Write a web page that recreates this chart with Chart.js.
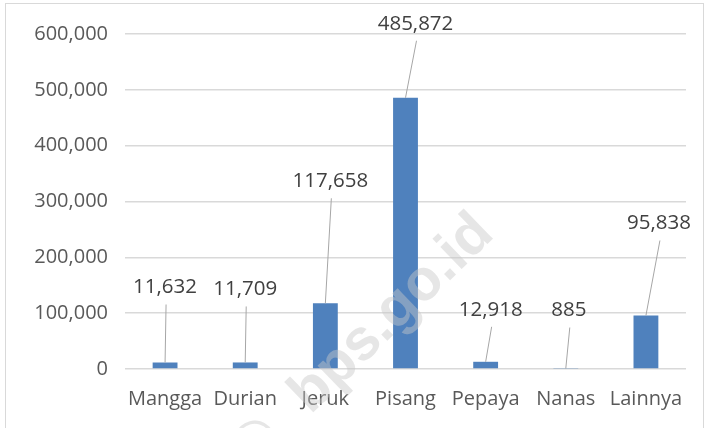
<!DOCTYPE html>
<html>
<head>
<meta charset="utf-8">
<script src="https://cdn.jsdelivr.net/npm/chart.js@4/dist/chart.umd.min.js"></script>
<style>
  html, body { margin: 0; padding: 0; background: #fff; }
  #wrap { width: 708px; height: 428px; position: relative; }
</style>
</head>
<body>
<div id="wrap"><canvas id="fruitChart" width="708" height="428"></canvas></div>
<script>
const categories = ['Mangga', 'Durian', 'Jeruk', 'Pisang', 'Pepaya', 'Nanas', 'Lainnya'];
const production = [11632, 11709, 117658, 485872, 12918, 885, 95838];
const yTicks = [0, 100000, 200000, 300000, 400000, 500000, 600000];

// label centre offset from the bar top (px), like the manually dragged labels in the source
const labelOffsets = [[0, -75], [0, -73], [5, -122], [10, -74], [5, -52], [3, -58], [13, -92]];

const FONT = "'Open Sans', 'Liberation Sans', sans-serif";

function fmt(v) {
  return v.toLocaleString('en-US');
}

const calloutPlugin = {
  id: 'callouts',
  afterDatasetsDraw(chart) {
    const ctx = chart.ctx;
    const meta = chart.getDatasetMeta(0);
    ctx.save();
    ctx.font = '20.5px ' + FONT;
    ctx.textAlign = 'center';
    ctx.textBaseline = 'middle';
    meta.data.forEach((bar, i) => {
      const off = labelOffsets[i];
      const lx = bar.x + off[0];
      const ly = bar.y + off[1];
      ctx.strokeStyle = '#a6a6a6';
      ctx.lineWidth = 1;
      ctx.beginPath();
      ctx.moveTo(lx + 1, ly + 17);
      ctx.lineTo(bar.x, bar.y);
      ctx.stroke();
      ctx.fillStyle = '#404040';
      ctx.fillText(fmt(production[i]), lx, ly);
    });
    ctx.restore();
  },
  afterDraw(chart) {
    const ctx = chart.ctx;
    ctx.save();
    // faint watermark
    ctx.translate(392, 314);
    ctx.rotate(-44 * Math.PI / 180);
    ctx.font = "bold 58px 'Liberation Sans', sans-serif";
    ctx.fillStyle = 'rgba(200,200,200,0.45)';
    ctx.textAlign = 'center';
    ctx.textBaseline = 'middle';
    const txt = 'bps.go.id';
    const w = ctx.measureText(txt).width;
    ctx.fillText(txt, 0, 0);
    ctx.fillText('\u00a9', -w / 2 - 58, 0);
    ctx.restore();
    // outer frame
    ctx.save();
    ctx.strokeStyle = '#d9d9d9';
    ctx.lineWidth = 1;
    ctx.strokeRect(5.5, 3.5, 698, 440);
    ctx.restore();
  }
};

new Chart(document.getElementById('fruitChart'), {
  type: 'bar',
  data: {
    labels: categories,
    datasets: [{
      data: production,
      backgroundColor: '#4f81bd',
      borderWidth: 0,
      barPercentage: 0.31,
      categoryPercentage: 1
    }]
  },
  options: {
    responsive: false,
    animation: false,
    layout: {
      padding: { top: 34, right: 22, bottom: 0, left: 0 }
    },
    plugins: {
      legend: { display: false },
      tooltip: { enabled: false }
    },
    scales: {
      x: {
        grid: { display: false, drawTicks: false },
        border: { display: false },
        afterFit: function(scale) { scale.height = 59; },
        ticks: {
          padding: 18,
          maxRotation: 0,
          minRotation: 0,
          autoSkip: false,
          color: '#595959',
          font: { family: FONT, size: 20 }
        }
      },
      y: {
        min: 0,
        max: 600000,
        afterFit: function(scale) { scale.width = 125; },
        afterBuildTicks: function(scale) {
          scale.ticks = yTicks.map((v) => ({ value: v }));
        },
        grid: { color: '#d9d9d9', lineWidth: 1.5, drawTicks: false },
        border: { display: false },
        ticks: {
          padding: 17,
          color: '#595959',
          font: { family: FONT, size: 20 },
          callback: function(value) { return fmt(value); }
        }
      }
    }
  },
  plugins: [calloutPlugin]
});
</script>
</body>
</html>
